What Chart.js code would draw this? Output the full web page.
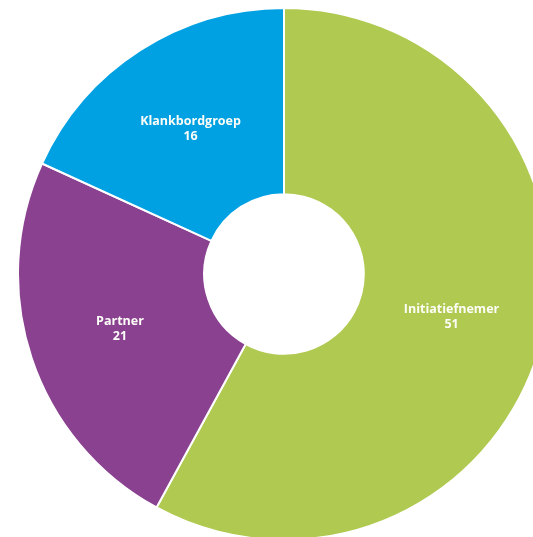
<!DOCTYPE html>
<html>
<head>
<meta charset="utf-8">
<script src="https://cdn.jsdelivr.net/npm/chart.js@4.4.0/dist/chart.umd.min.js"></script>
<style>
  html, body { margin: 0; padding: 0; background: #fff; overflow: hidden; }
  body { width: 533px; height: 537px; position: relative; }
  #wrap { position: absolute; left: 17px; top: 7px; width: 534px; height: 534px; }
</style>
</head>
<body>
<div id="wrap"><canvas id="rolChart"></canvas></div>
<script>
// Rollen en aantallen
const labels = ['Initiatiefnemer', 'Partner', 'Klankbordgroep'];
const counts = [51, 21, 16];
const colors = ['#b0c951', '#8a4190', '#00a1e2'];

// Naam + aantal in het midden van elk segment
const segmentLabels = {
    id: 'segmentLabels',
    afterDatasetsDraw(chart) {
        const ctx = chart.ctx;
        const meta = chart.getDatasetMeta(0);
        ctx.save();
        ctx.fillStyle = '#fdfdf8';
        ctx.textAlign = 'center';
        ctx.textBaseline = 'middle';
        ctx.font = 'bold 12.5px "Open Sans", sans-serif';
        meta.data.forEach((arc, i) => {
            const p = arc.getCenterPoint();
            ctx.fillText(chart.data.labels[i], p.x, p.y - 7.5);
            ctx.fillText(String(chart.data.datasets[0].data[i]), p.x, p.y + 7.5);
        });
        ctx.restore();
    }
};

new Chart(document.getElementById('rolChart').getContext('2d'), {
    type: 'doughnut',
    data: {
        labels: labels,
        datasets: [{
            data: counts,
            backgroundColor: colors,
            borderColor: '#ffffff',
            borderWidth: 2
        }]
    },
    options: {
        responsive: true,
        maintainAspectRatio: false,
        animation: false,
        cutout: '30%',
        layout: { padding: 0 },
        plugins: {
            legend: { display: false },
            tooltip: { enabled: false }
        }
    },
    plugins: [segmentLabels]
});
</script>
</body>
</html>
